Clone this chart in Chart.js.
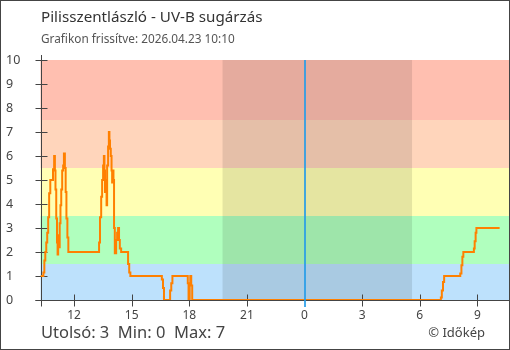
<!DOCTYPE html>
<html lang="hu">
<head>
<meta charset="utf-8">
<title>Pilisszentlászló - UV-B sugárzás</title>
<script src="https://cdn.jsdelivr.net/npm/chart.js@4.4.1/dist/chart.umd.min.js"></script>
<style>
    html, body { margin: 0; padding: 0; background: #fff; }
    #wrap { position: relative; width: 510px; height: 350px; font-family: 'Noto Sans', sans-serif; color: #444; overflow: hidden; }
    #wrap canvas { position: absolute; left: 0; top: 0; }
    #frame { position: absolute; left: 0; top: 0; width: 510px; height: 350px; border: 1px solid #444; box-sizing: border-box; pointer-events: none; }
    .txt { position: absolute; white-space: pre; line-height: 1; }
    #title { left: 41px; top: 9px; font-size: 15.2px; color: #333; }
    #subtitle { left: 41px; top: 33px; font-size: 11.8px; color: #555; }
    #stats { left: 41px; top: 324px; font-size: 16.5px; color: #444; }
    #copy { right: 25px; top: 326px; font-size: 13px; color: #444; }
</style>
</head>
<body>
<div id="wrap">
    <canvas id="uvChart" width="510" height="350"></canvas>
    <div id="frame"></div>
    <div class="txt" id="title">Pilisszentlászló - UV-B sugárzás</div>
    <div class="txt" id="subtitle">Grafikon frissítve: 2026.04.23 10:10</div>
    <div class="txt" id="stats"></div>
    <div class="txt" id="copy">© Időkép</div>
</div>
<script>
// Mérési időpontok (óra, előző nap éjféltől számolva) és UV-B értékek
const hours = [
    10.25, 10.40, 10.45, 10.50, 10.55, 10.60, 10.65, 10.70, 10.76, 10.90,
    10.96, 11.00, 11.03, 11.07, 11.11, 11.14, 11.17, 11.20, 11.25, 11.29,
    11.33, 11.38, 11.43, 11.47, 11.52, 11.56, 11.60, 11.65, 11.70,
    13.30, 13.35, 13.41, 13.46, 13.51, 13.55, 13.58, 13.61, 13.65, 13.69,
    13.72, 13.77, 13.81, 13.84, 13.87, 13.91, 13.95, 13.98, 14.01, 14.05,
    14.08, 14.12, 14.19, 14.24, 14.29, 14.34, 14.38, 14.45,
    14.81, 14.87, 14.93,
    16.57, 16.63, 16.68, 17.00, 17.06, 17.12,
    17.92, 17.96, 18.02, 18.05, 18.10, 18.15,
    31.10, 31.15, 31.21, 31.27,
    32.11, 32.17, 32.22, 32.27,
    32.82, 32.86, 32.91, 32.95, 34.16
];
const uvValues = [
    1.0, 1.15, 1.65, 2.0, 2.4, 2.8, 3.45, 4.45, 5.0, 5.45,
    6.0, 5.4, 4.6, 3.4, 2.4, 1.9, 2.7, 2.2, 3.2, 3.95,
    4.6, 5.4, 5.6, 6.1, 5.5, 4.5, 3.4, 2.6, 2.0,
    2.4, 3.45, 4.3, 5.0, 5.6, 6.0, 5.4, 4.5, 5.0, 3.95,
    5.6, 6.4, 7.0, 6.65, 6.3, 6.0, 5.4, 4.9, 5.4, 5.0,
    3.0, 1.95, 2.5, 2.8, 3.0, 2.5, 2.15, 2.0,
    1.5, 1.15, 1.0,
    0.85, 0.5, 0.0, 0.4, 0.7, 1.0,
    0.7, 0.0, 0.7, 1.0, 0.6, 0.0,
    0.1, 0.4, 0.75, 1.0,
    1.1, 1.45, 1.8, 2.0,
    2.15, 2.45, 2.8, 3.0, 3.0
];

const xTickHours = [12, 15, 18, 21, 24, 27, 30, 33];
const yTicks = [0, 1, 2, 3, 4, 5, 6, 7, 8, 9, 10];

// UV sávok határai és színei
const bandLimits = [0, 1.5, 3.5, 5.5, 7.5, 10];
const bandColors = ['#bde1fc', '#b0ffbe', '#ffffb4', '#ffd5bb', '#ffbfb0'];

// napnyugta / napkelte (óra)
const sunset = 19.73;
const sunrise = 29.60;
const midnight = 24;

const fontFamily = "'Noto Sans', sans-serif";

// alsó összesítő sor
const last = uvValues[uvValues.length - 1];
document.getElementById('stats').textContent =
    'Utolsó: ' + Math.round(last) + '  Min: ' + Math.round(Math.min(...uvValues)) +
    '  Max: ' + Math.round(Math.max(...uvValues));

// háttérsávok, éjszaka, tengelyek
const backdrop = {
    id: 'backdrop',
    beforeDatasetsDraw(chart) {
        const { ctx, chartArea: a, scales: { x, y } } = chart;
        ctx.save();
        for (let i = 0; i < bandColors.length; i++) {
            const top = y.getPixelForValue(bandLimits[i + 1]);
            const bottom = y.getPixelForValue(bandLimits[i]);
            ctx.fillStyle = bandColors[i];
            ctx.fillRect(a.left, top, a.right - a.left, bottom - top);
        }
        const n1 = x.getPixelForValue(sunset);
        const n2 = x.getPixelForValue(sunrise);
        ctx.fillStyle = 'rgba(0, 0, 0, 0.1)';
        ctx.fillRect(n1, a.top, n2 - n1, a.bottom - a.top);

        ctx.strokeStyle = '#444';
        ctx.lineWidth = 1;
        ctx.beginPath();
        const ax = Math.round(a.left) + 0.5;
        const ay = Math.round(a.bottom) + 0.5;
        ctx.moveTo(ax, a.top - 5);
        ctx.lineTo(ax, ay + 6);
        ctx.moveTo(ax - 6, ay);
        ctx.lineTo(a.right, ay);
        yTicks.forEach(v => {
            const py = Math.round(y.getPixelForValue(v)) + 0.5;
            ctx.moveTo(ax - 6, py);
            ctx.lineTo(ax + 6, py);
        });
        xTickHours.forEach(v => {
            if (v === midnight) return;
            const px = Math.round(x.getPixelForValue(v)) + 0.5;
            ctx.moveTo(px, ay - 6);
            ctx.lineTo(px, ay + 6);
        });
        ctx.stroke();
        ctx.restore();
    },
    // éjfél jelölése kék vonallal
    afterDatasetsDraw(chart) {
        const { ctx, chartArea: a, scales: { x } } = chart;
        const mx = Math.round(x.getPixelForValue(midnight));
        ctx.save();
        ctx.fillStyle = 'rgba(38, 156, 232, 0.85)';
        ctx.fillRect(mx - 1, a.top, 2, Math.round(a.bottom) + 7 - a.top);
        ctx.restore();
    }
};

const ctx = document.getElementById('uvChart').getContext('2d');
new Chart(ctx, {
    type: 'line',
    data: {
        datasets: [{
            data: hours.map((h, i) => ({ x: h, y: uvValues[i] })),
            borderColor: '#ff8000',
            borderWidth: 2,
            pointRadius: 0,
            stepped: true,
            fill: false
        }]
    },
    options: {
        responsive: false,
        animation: false,
        layout: { padding: { top: 60, left: 6, right: 0, bottom: 0 } },
        plugins: {
            legend: { display: false },
            tooltip: { enabled: false }
        },
        scales: {
            x: {
                type: 'linear',
                min: 10.25,
                max: 34.7,
                grid: { display: false, drawTicks: false },
                border: { display: false },
                afterBuildTicks: s => { s.ticks = xTickHours.map(v => ({ value: v })); },
                afterFit: s => { s.height = 50; },
                ticks: {
                    autoSkip: false,
                    maxRotation: 0,
                    padding: 8,
                    color: '#444',
                    font: { family: fontFamily, size: 12 },
                    callback: v => String(v % 24)
                }
            },
            y: {
                min: 0,
                max: 10,
                grid: { display: false, drawTicks: false },
                border: { display: false },
                afterBuildTicks: s => { s.ticks = yTicks.map(v => ({ value: v })); },
                afterFit: s => { s.width = 34.5; },
                ticks: {
                    crossAlign: 'far',
                    padding: 0,
                    color: '#444',
                    font: { family: fontFamily, size: 12.5 }
                }
            }
        }
    },
    plugins: [backdrop]
});
</script>
</body>
</html>
